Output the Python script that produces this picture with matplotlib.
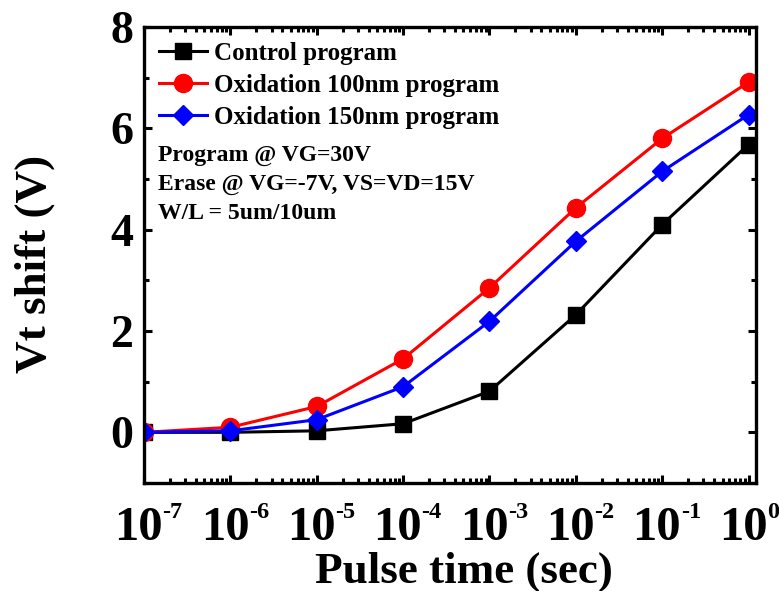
import matplotlib
matplotlib.use("Agg")
import matplotlib.pyplot as plt
from matplotlib.ticker import LogLocator, MultipleLocator, FixedLocator, NullFormatter
from matplotlib.transforms import blended_transform_factory, ScaledTranslation

plt.rcParams['font.family'] = ['Liberation Serif', 'DejaVu Serif']
plt.rcParams['font.weight'] = 'bold'

pulse_time = [1e-7, 1e-6, 1e-5, 1e-4, 1e-3, 1e-2, 1e-1, 1e0]
control = [0.0, 0.0, 0.03, 0.17, 0.81, 2.32, 4.10, 5.68]
oxid_100 = [0.0, 0.10, 0.51, 1.45, 2.85, 4.43, 5.80, 6.91]
oxid_150 = [0.0, 0.03, 0.25, 0.90, 2.19, 3.77, 5.15, 6.27]

labels = ["Control program", "Oxidation 100nm program", "Oxidation 150nm program"]
notes = ["Program @ VG=30V", "Erase @ VG=-7V, VS=VD=15V", "W/L = 5um/10um"]
x_ticks = [1e-7, 1e-6, 1e-5, 1e-4, 1e-3, 1e-2, 1e-1, 1e0]
x_exponents = ["-7", "-6", "-5", "-4", "-3", "-2", "-1", "0"]
y_ticks = [0, 2, 4, 6, 8]

fig = plt.figure(figsize=(7.79, 5.91), dpi=100)
ax = fig.add_axes([144/779, 1 - 483/591, (756 - 144)/779, (483 - 27)/591])

ax.plot(pulse_time, control, color='black', lw=2.2, marker='s', ms=11, label=labels[0])
ax.plot(pulse_time, oxid_100, color='#ff0000', lw=2.2, marker='o', ms=13, label=labels[1])
ax.plot(pulse_time, oxid_150, color='#0000ff', lw=2.2, marker='D', ms=10.5, label=labels[2])

ax.set_xscale('log')
ax.set_xlim(1e-7, 1.22)
ax.set_ylim(-1, 8)
ax.xaxis.set_major_locator(FixedLocator(x_ticks))
ax.xaxis.set_major_formatter(NullFormatter())
ax.xaxis.set_minor_locator(LogLocator(base=10, subs=range(2, 10), numticks=20))
ax.xaxis.set_minor_formatter(NullFormatter())
ax.yaxis.set_major_locator(FixedLocator(y_ticks))
ax.yaxis.set_minor_locator(MultipleLocator(1))

for side in ax.spines.values():
    side.set_linewidth(2.4)
ax.tick_params(which='both', direction='in', top=True, right=True, width=2.2)
ax.tick_params(which='major', length=6)
ax.tick_params(which='minor', length=3.5)
ax.tick_params(axis='y', which='major', labelsize=33, pad=8)
for t in ax.get_yticklabels():
    t.set_fontweight('bold')

# decade labels: "10" with a small raised exponent
base_tr = blended_transform_factory(ax.transData, ax.transAxes)
for xv, ex in zip(x_ticks, x_exponents):
    ax.text(xv, 0, "10", transform=base_tr + ScaledTranslation(0.19, -0.565, fig.dpi_scale_trans),
            ha='right', va='baseline', fontsize=35, fontweight='bold', clip_on=False)
    ax.text(xv, 0, ex, transform=base_tr + ScaledTranslation(0.185, -0.355, fig.dpi_scale_trans),
            ha='left', va='baseline', fontsize=17.5, fontweight='bold', clip_on=False)

ax.set_xlabel("Pulse time (sec)", fontsize=32.5, fontweight='bold')
ax.xaxis.set_label_coords(0.523, -0.219)
ax.xaxis.label.set_va('baseline')
ax.set_ylabel("Vt shift (V)", fontsize=32.5, fontweight='bold')
ax.yaxis.set_label_coords(-0.146, 0.481)

leg = ax.legend(loc='upper left', frameon=False, fontsize=18, handlelength=1.9,
                borderaxespad=0.2, labelspacing=0.36, handletextpad=0.32,
                bbox_to_anchor=(0.0, 1.0))
for t in leg.get_texts():
    t.set_fontweight('bold')

for i, note in enumerate(notes):
    ax.text(0.023, 0.719 - i * 0.064, note, transform=ax.transAxes, fontsize=17,
            fontweight='bold', va='center', ha='left')

fig.savefig("out.png", dpi=100)
